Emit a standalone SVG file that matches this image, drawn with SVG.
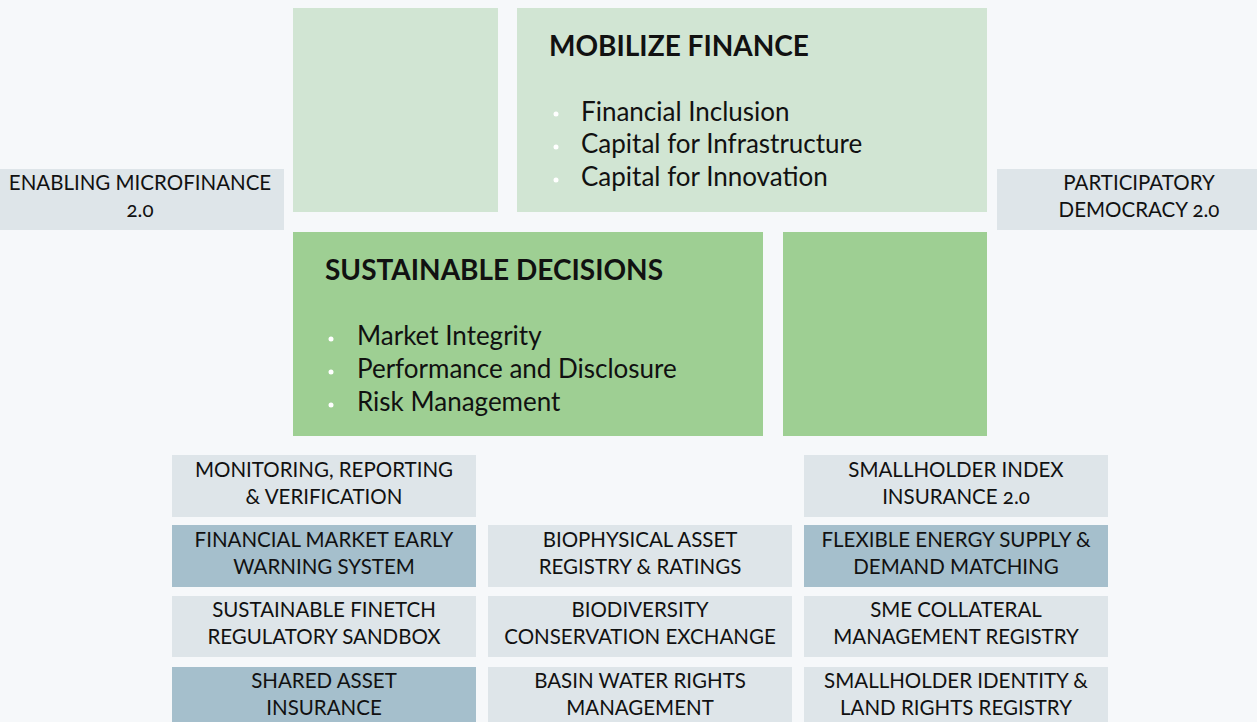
<svg xmlns="http://www.w3.org/2000/svg" width="1257" height="722" viewBox="0 0 1257 722">
<style>
text{font-family:Lato,"Open Sans","Liberation Sans",sans-serif;fill:#111;font-variant-numeric:oldstyle-nums;font-feature-settings:"onum"}
.lab{font-size:20.5px;text-anchor:middle}
.ttl{font-size:28px;font-weight:bold}
.bul{font-size:26px}
.lg{fill:#D1E5D3}.dg{fill:#9ECF93}.lb{fill:#DEE5E9}.db{fill:#A5BFCC}
.dot{fill:#fff}
</style>
<rect width="1257" height="722" fill="#F6F8FA"/>
<g id="green-tl"><rect class="lg" x="293" y="8" width="205" height="204"/></g>
<g id="mobilize-finance">
<rect class="lg" x="517" y="8" width="470" height="204"/>
<text class="ttl" x="549" y="56">MOBILIZE FINANCE</text>
<circle class="dot" cx="556" cy="114" r="2.5"/><text class="bul" x="581" y="121">Financial Inclusion</text>
<circle class="dot" cx="556" cy="147" r="2.5"/><text class="bul" x="581" y="153">Capital for Infrastructure</text>
<circle class="dot" cx="556" cy="180" r="2.5"/><text class="bul" x="581" y="186">Capital for Innovation</text>
</g>
<g id="enabling-microfinance"><rect class="lb" x="0" y="169" width="284" height="61"/>
<text class="lab" x="140" y="190">ENABLING MICROFINANCE</text><text class="lab" x="140" y="217">2.0</text></g>
<g id="participatory-democracy"><rect class="lb" x="997" y="169" width="260" height="61"/>
<text class="lab" x="1139" y="190">PARTICIPATORY</text><text class="lab" x="1139" y="217">DEMOCRACY 2.0</text></g>
<g id="sustainable-decisions">
<rect class="dg" x="293" y="232" width="470" height="204"/>
<text class="ttl" x="325" y="280">SUSTAINABLE DECISIONS</text>
<circle class="dot" cx="331" cy="339" r="2.5"/><text class="bul" x="357" y="345">Market Integrity</text>
<circle class="dot" cx="331" cy="372" r="2.5"/><text class="bul" x="357" y="378">Performance and Disclosure</text>
<circle class="dot" cx="331" cy="405" r="2.5"/><text class="bul" x="357" y="411">Risk Management</text>
</g>
<g id="green-br"><rect class="dg" x="783" y="232" width="204" height="204"/></g>
<g id="mrv"><rect class="lb" x="172" y="455" width="304" height="62"/>
<text class="lab" x="324" y="477">MONITORING, REPORTING</text><text class="lab" x="324" y="504">&amp; VERIFICATION</text></g>
<g id="smallholder-index"><rect class="lb" x="804" y="455" width="304" height="62"/>
<text class="lab" x="956" y="477">SMALLHOLDER INDEX</text><text class="lab" x="956" y="504">INSURANCE 2.0</text></g>
<g id="fm-early-warning"><rect class="db" x="172" y="525" width="304" height="62"/>
<text class="lab" x="324" y="547">FINANCIAL MARKET EARLY</text><text class="lab" x="324" y="574">WARNING SYSTEM</text></g>
<g id="biophysical"><rect class="lb" x="488" y="525" width="304" height="62"/>
<text class="lab" x="640" y="547">BIOPHYSICAL ASSET</text><text class="lab" x="640" y="574">REGISTRY &amp; RATINGS</text></g>
<g id="flexible-energy"><rect class="db" x="804" y="525" width="304" height="62"/>
<text class="lab" x="956" y="547">FLEXIBLE ENERGY SUPPLY &amp;</text><text class="lab" x="956" y="574">DEMAND MATCHING</text></g>
<g id="finetch-sandbox"><rect class="lb" x="172" y="596" width="304" height="61"/>
<text class="lab" x="324" y="617">SUSTAINABLE FINETCH</text><text class="lab" x="324" y="644">REGULATORY SANDBOX</text></g>
<g id="biodiversity"><rect class="lb" x="488" y="596" width="304" height="61"/>
<text class="lab" x="640" y="617">BIODIVERSITY</text><text class="lab" x="640" y="644">CONSERVATION EXCHANGE</text></g>
<g id="sme-collateral"><rect class="lb" x="804" y="596" width="304" height="61"/>
<text class="lab" x="956" y="617">SME COLLATERAL</text><text class="lab" x="956" y="644">MANAGEMENT REGISTRY</text></g>
<g id="shared-asset"><rect class="db" x="172" y="667" width="304" height="60"/>
<text class="lab" x="324" y="688">SHARED ASSET</text><text class="lab" x="324" y="715">INSURANCE</text></g>
<g id="basin-water"><rect class="lb" x="488" y="667" width="304" height="60"/>
<text class="lab" x="640" y="688">BASIN WATER RIGHTS</text><text class="lab" x="640" y="715">MANAGEMENT</text></g>
<g id="smallholder-identity"><rect class="lb" x="804" y="667" width="304" height="60"/>
<text class="lab" x="956" y="688">SMALLHOLDER IDENTITY &amp;</text><text class="lab" x="956" y="715">LAND RIGHTS REGISTRY</text></g>
<g id="connectors"/>
</svg>
